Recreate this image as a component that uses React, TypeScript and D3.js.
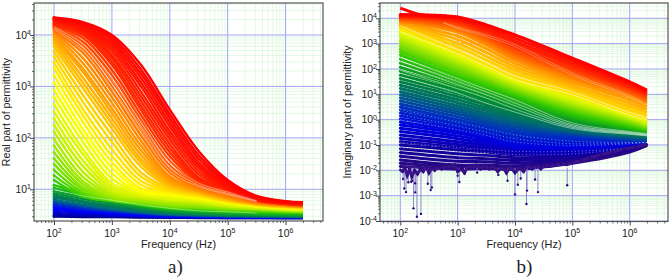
import React, { useEffect, useRef } from 'react'
import * as d3 from 'd3'

// all curve values are log10 of the reading
const leftLogF = [2, 2.5, 3, 3.5, 4, 4.5, 5, 5.5, 6, 6.3]
const leftRows = [
  [4.34,4.25,4.00,3.42,2.55,1.74,1.18,.87,.77,.75],
  [4.33,4.22,3.95,3.33,2.46,1.66,1.14,.86,.76,.74],
  [4.32,4.20,3.90,3.25,2.38,1.59,1.11,.84,.75,.74],
  [4.31,4.17,3.85,3.17,2.30,1.52,1.08,.83,.75,.73],
  [4.30,4.15,3.80,3.08,2.22,1.46,1.05,.81,.74,.73],
  [4.28,4.12,3.74,3.00,2.13,1.41,1.03,.80,.74,.72],
  [4.27,4.10,3.68,2.90,2.05,1.35,1.02,.80,.73,.72],
  [4.25,4.07,3.61,2.81,1.97,1.29,1.01,.80,.73,.71],
  [4.23,4.05,3.55,2.72,1.88,1.23,1.00,.79,.72,.71],
  [4.21,4.02,3.48,2.63,1.80,1.20,.99,.79,.72,.70],
  [4.19,4.00,3.42,2.55,1.72,1.17,.99,.79,.72,.70],
  [4.17,3.94,3.32,2.45,1.64,1.14,.97,.78,.72,.70],
  [4.15,3.87,3.22,2.35,1.55,1.11,.95,.78,.71,.69],
  [4.13,3.80,3.11,2.25,1.46,1.08,.93,.77,.71,.69],
  [4.10,3.72,3.00,2.15,1.38,1.05,.91,.76,.70,.68],
  [4.08,3.65,2.90,2.05,1.32,1.03,.88,.75,.70,.68],
  [4.05,3.55,2.79,1.95,1.25,1.01,.85,.74,.69,.67],
  [4.02,3.45,2.68,1.85,1.21,.99,.84,.73,.69,.67],
  [3.98,3.35,2.57,1.76,1.17,.97,.83,.73,.68,.66],
  [3.94,3.28,2.48,1.67,1.14,.96,.82,.72,.68,.66],
  [3.90,3.17,2.38,1.59,1.11,.95,.81,.72,.67,.66],
  [3.84,3.07,2.28,1.52,1.08,.93,.80,.71,.67,.65],
  [3.77,2.97,2.18,1.44,1.05,.92,.79,.71,.67,.65],
  [3.68,2.83,2.05,1.33,1.02,.91,.78,.70,.66,.64],
  [3.58,2.70,1.92,1.25,.99,.89,.77,.70,.66,.64],
  [3.47,2.56,1.78,1.16,.97,.88,.77,.70,.65,.64],
  [3.36,2.44,1.65,1.09,.95,.86,.76,.69,.65,.63],
  [3.22,2.31,1.53,1.02,.93,.85,.75,.69,.65,.63],
  [3.08,2.17,1.42,.97,.91,.84,.75,.69,.64,.63],
  [2.93,2.05,1.31,.94,.89,.82,.74,.68,.64,.62],
  [2.79,1.92,1.21,.92,.87,.81,.73,.67,.63,.62],
  [2.65,1.78,1.12,.92,.85,.79,.72,.66,.62,.61],
  [2.51,1.68,1.06,.89,.83,.78,.71,.66,.62,.60],
  [2.38,1.56,1.01,.87,.81,.76,.69,.65,.61,.60],
  [2.25,1.45,.96,.85,.79,.75,.68,.64,.61,.59],
  [2.12,1.34,.92,.83,.77,.73,.67,.63,.60,.59],
  [1.98,1.24,.89,.81,.75,.72,.66,.63,.60,.58],
  [1.85,1.16,.86,.79,.73,.70,.65,.62,.59,.58],
  [1.72,1.10,.84,.77,.71,.68,.64,.62,.58,.57],
  [1.60,1.04,.82,.75,.69,.67,.63,.61,.58,.57],
  [1.49,.99,.80,.74,.68,.65,.62,.60,.57,.56],
  [1.38,.94,.79,.73,.66,.64,.60,.59,.57,.56],
  [1.27,.90,.78,.72,.65,.63,.59,.58,.56,.55],
  [1.18,.86,.77,.70,.64,.62,.58,.57,.56,.55],
  [1.08,.92,.80,.70,.63,.60,.57,.55,.54,.53],
  [1.02,.89,.78,.68,.61,.58,.55,.53,.52,.51],
  [.96,.85,.75,.66,.59,.56,.53,.51,.50,.50],
  [.92,.81,.72,.63,.57,.53,.51,.50,.49,.48],
  [.88,.77,.68,.60,.55,.52,.50,.49,.48,.48],
  [.84,.74,.65,.58,.53,.51,.49,.48,.48,.47],
  [.80,.70,.62,.56,.52,.50,.48,.48,.47,.47],
  [.76,.67,.60,.55,.51,.49,.48,.47,.47,.46],
  [.72,.64,.58,.53,.50,.48,.47,.47,.46,.46],
  [.68,.61,.56,.52,.49,.48,.47,.46,.46,.46],
  [.64,.58,.54,.50,.48,.47,.46,.46,.45,.45],
  [.60,.56,.52,.49,.47,.46,.46,.45,.45,.45],
  [.56,.53,.50,.48,.46,.46,.45,.45,.45,.45],
  [.52,.50,.48,.47,.46,.45,.45,.45,.44,.44],
  [.49,.48,.47,.46,.45,.45,.44,.44,.44,.44],
  [.47,.46,.46,.45,.45,.44,.44,.44,.44,.44],
]
const leftColorIdx = [0, 10, 16, 22, 28, 33, 40, 44, 46, 48, 50, 52, 54, 57, 59]
const leftColors = ['#ff0000','#ff2a00','#ff8a00','#ffc400','#ffff00','#d8f400','#78e000','#22c800','#0ba030','#007f50','#006a80','#0030c0','#0000ff','#0000b8','#00008b']

// pale hairlines where the family of curves leaves a gap
const leftHairF = [2, 2.5, 3, 3.5, 4, 4.5, 5, 5.5]
const leftHairRows = [
  [1.0,.87,.79,.70,.63,.58,.56,.54],
  [4.16,3.82,3.12,2.32,1.53,1.12,.95,.78],
  [4.14,3.76,3.05,2.24,1.44,1.08,.92,.77],
  [4.11,3.70,2.97,2.14,1.36,1.05,.90,.76],
]

const rightLogF = [2, 3, 3.5, 4, 5, 6, 6.3]
const rightRows = [
  [4.15,4.05,3.74,3.34,2.43,1.49,1.17],
  [4.12,4.00,3.66,3.22,2.33,1.43,1.12],
  [4.10,3.95,3.58,3.10,2.23,1.37,1.07],
  [4.07,3.90,3.50,2.99,2.14,1.31,1.02],
  [4.05,3.85,3.42,2.87,2.04,1.25,.97],
  [4.01,3.77,3.33,2.77,1.95,1.18,.90],
  [3.97,3.69,3.23,2.66,1.85,1.11,.83],
  [3.93,3.61,3.14,2.56,1.76,1.04,.76],
  [3.89,3.53,3.04,2.45,1.66,.97,.69],
  [3.85,3.45,2.95,2.35,1.57,.90,.62],
  [3.81,3.30,2.80,2.22,1.47,.78,.51],
  [3.77,3.16,2.65,2.09,1.36,.65,.40],
  [3.73,3.01,2.50,1.96,1.26,.53,.29],
  [3.69,2.87,2.35,1.83,1.15,.40,.18],
  [3.65,2.72,2.20,1.70,1.05,.28,.07],
  [3.55,2.63,2.12,1.63,.96,.23,.01],
  [3.45,2.54,2.04,1.56,.88,.18,-.05],
  [3.35,2.44,1.96,1.48,.79,.12,-.11],
  [3.25,2.35,1.88,1.41,.70,.07,-.17],
  [3.13,2.25,1.79,1.34,.63,.02,-.21],
  [3.02,2.14,1.70,1.26,.55,-.04,-.25],
  [2.90,2.04,1.62,1.19,.48,-.09,-.29],
  [2.78,1.93,1.53,1.12,.40,-.14,-.33],
  [2.67,1.83,1.44,1.04,.33,-.20,-.37],
  [2.55,1.72,1.35,.97,.25,-.25,-.41],
  [2.39,1.61,1.24,.87,.17,-.30,-.44],
  [2.23,1.49,1.13,.76,.10,-.35,-.47],
  [2.07,1.38,1.02,.66,.02,-.39,-.50],
  [1.91,1.26,.91,.55,-.05,-.44,-.53],
  [1.75,1.15,.80,.45,-.13,-.49,-.56],
  [1.62,1.03,.69,.36,-.19,-.52,-.58],
  [1.49,.91,.58,.27,-.24,-.55,-.61],
  [1.36,.79,.47,.18,-.30,-.58,-.63],
  [1.23,.67,.36,.09,-.35,-.61,-.66],
  [1.10,.55,.25,.00,-.41,-.64,-.68],
  [.98,.44,.15,-.10,-.46,-.67,-.71],
  [.86,.33,.05,-.20,-.50,-.70,-.74],
  [.74,.22,-.05,-.29,-.55,-.74,-.78],
  [.62,.11,-.15,-.39,-.59,-.77,-.81],
  [.50,.00,-.25,-.49,-.64,-.80,-.84],
  [.38,-.09,-.34,-.58,-.71,-.83,-.85],
  [.26,-.18,-.42,-.66,-.79,-.85,-.87],
  [.15,-.26,-.51,-.75,-.86,-.88,-.88],
  [.03,-.35,-.59,-.83,-.93,-.91,-.89],
  [-.09,-.44,-.68,-.92,-1.01,-.93,-.91],
  [-.21,-.53,-.76,-1.00,-1.08,-.96,-.92],
  [-.34,-.64,-.85,-1.07,-1.13,-.99,-.93],
  [-.47,-.75,-.93,-1.13,-1.18,-1.01,-.93],
  [-.61,-.87,-1.02,-1.20,-1.24,-1.04,-.94],
  [-.74,-.98,-1.11,-1.26,-1.29,-1.07,-.95],
  [-.87,-1.09,-1.19,-1.33,-1.34,-1.09,-.95],
  [-1.00,-1.20,-1.28,-1.39,-1.39,-1.12,-.96],
  [-1.15,-1.35,-1.41,-1.50,-1.44,-1.14,-.97],
  [-1.30,-1.50,-1.54,-1.61,-1.49,-1.16,-.98],
  [-1.44,-1.64,-1.66,-1.72,-1.54,-1.18,-.99],
  [-1.59,-1.79,-1.79,-1.83,-1.59,-1.20,-1.00],
  [-1.72,-1.86,-1.85,-1.90,-1.66,-1.24,-1.01],
  [-1.85,-1.95,-1.93,-1.96,-1.72,-1.28,-1.02],
]
const rightColorIdx = [0, 4, 9, 14, 16, 18, 24, 29, 34, 39, 45, 51, 57]
const rightColors = ['#ff0000','#ff3000','#ff9000','#ffe000','#e8f800','#c0f000','#30c800','#008c30','#006a70','#0030c0','#0000e0','#1000a0','#2c0a80']

const rightOrangeHairF = [2.75, 3, 3.5, 4, 5, 6, 6.3]
const rightOrangeHair = [
  [3.85,3.65,3.35,2.97,1.84,.95,.62],
  [3.82,3.60,3.28,2.88,1.76,.88,.55],
]
const rightHairRows = [
  [3.71,2.75,2.25,1.72,1.10,.28,.09],
  [3.47,2.60,2.10,1.58,.98,.18,.00],
  [2.45,1.62,1.20,.78,-.13,-.47,-.55],
  [2.30,1.50,1.10,.66,-.20,-.50,-.58],
  [2.15,1.38,.98,.55,-.25,-.53,-.60],
  [1.95,1.22,.85,.42,-.30,-.55,-.62],
  [1.70,1.05,.65,.30,-.35,-.58,-.64],
]
const rightDottedRows = [
  [.40,-.10,-.35,-.60,-.85,-.90,-.90],
  [.20,-.25,-.50,-.75,-.95,-.92,-.90],
  [.00,-.40,-.62,-.88,-1.02,-.95,-.90],
  [-.90,-1.10,-1.18,-1.25,-1.25,-1.10,-.95],
  [-1.10,-1.25,-1.30,-1.38,-1.35,-1.12,-.96],
]

// low frequency red tail on the imaginary part
const tailLogF = [2, 2.1, 2.2, 2.3, 2.45, 2.6, 2.8, 3]
const tailLogV = [4.40, 4.32, 4.24, 4.17, 4.11, 4.07, 4.05, 4.05]

// jagged noise floor of panel b
const noiseLogF = [2,2.04,2.08,2.12,2.16,2.2,2.25,2.3,2.35,2.4,2.45,2.5,2.55,2.6,2.66,2.72,2.8,2.88,2.95,3,3.06,3.12,3.18,3.25,3.32,3.4,3.47,3.55,3.62,3.7,3.78,3.85,3.92,4,4.08,4.15,4.22,4.3,4.38,4.45,4.52,4.6,4.7,4.8,4.9,5,5.15,5.3,5.5,5.7,5.9,6.1,6.3]
const noiseLogV = [-1.98,-2.05,-1.9,-2.2,-1.95,-2.25,-2,-2.15,-1.95,-2.05,-1.85,-2.1,-1.9,-2,-1.85,-1.95,-1.8,-1.9,-1.78,-2.05,-1.95,-2.1,-1.82,-1.92,-1.8,-1.95,-1.8,-1.95,-1.82,-2.05,-1.85,-2.1,-1.85,-2.1,-1.9,-2.05,-1.8,-1.95,-1.8,-1.95,-1.8,-1.85,-1.8,-1.75,-1.78,-1.7,-1.62,-1.5,-1.38,-1.28,-1.16,-1.08,-.98]

// isolated deep points hanging from the noise floor
const spikeLogF = [2.05,2.07,2.1,2.14,2.19,2.22,2.23,2.26,2.26,2.29,2.36,2.48,2.53,2.55,3,3.03,3.12,3.34,3.71,3.87,4,4.05,4.1,4.2,4.21,4.35,4.4,4.91]
const spikeLogV = [-2.34,-2.72,-2.86,-2.47,-2.45,-2.41,-3.5,-2.87,-2.51,-3.83,-3.72,-2.53,-2.78,-2.68,-2.21,-2.46,-2.14,-2.09,-2.18,-2.41,-2.95,-2.57,-2.32,-3.33,-2.8,-2.36,-2.86,-2.59]

const xExps = [2, 3, 4, 5, 6]
const leftYExps = [1, 2, 3, 4]
const rightYExps = [-4, -3, -2, -1, 0, 1, 2, 3, 4]

const minorsBetween = (lo, hi) => {
  const out = []
  for (let e = Math.floor(Math.log10(lo)); e < Math.ceil(Math.log10(hi)); e++) {
    for (let m = 2; m < 10; m++) {
      const v = m * 10 ** e
      if (v >= lo && v <= hi) out.push(v)
    }
  }
  return out
}

function Axes({ x, y, frame }) {
  const ref = useRef(null)
  useEffect(() => {
    const g = d3.select(ref.current)
    g.selectAll('*').remove()
    const xMin = x.invert(frame.x0)
    const xMax = x.invert(frame.x1)
    const yMin = y.invert(frame.y1)
    const yMax = y.invert(frame.y0)
    const xMinor = minorsBetween(xMin, xMax)
    const yMinor = minorsBetween(yMin, yMax)
    const xMajor = xExps.map(e => 10 ** e)
    const yMajor = d3.range(Math.ceil(Math.log10(yMin)), Math.floor(Math.log10(yMax)) + 1).map(e => 10 ** e)

    const add = (axis, tx, ty, size) => {
      const a = g.append('g').attr('transform', `translate(${tx},${ty})`).call(axis)
      a.select('.domain').remove()
      a.selectAll('line').attr('stroke', '#333').attr('stroke-width', size)
    }
    add(d3.axisBottom(x).tickValues(xMinor).tickSize(2).tickFormat(() => ''), 0, frame.y1, 0.7)
    add(d3.axisBottom(x).tickValues(xMajor).tickSize(4).tickFormat(() => ''), 0, frame.y1, 0.9)
    add(d3.axisLeft(y).tickValues(yMinor).tickSize(2).tickFormat(() => ''), frame.x0, 0, 0.7)
    add(d3.axisLeft(y).tickValues(yMajor).tickSize(4).tickFormat(() => ''), frame.x0, 0, 0.9)
  }, [x, y, frame])
  return <g ref={ref} />
}

function Panel({ x, y, frame, logF, rows, colorIdx, colors, strokeW, yExps, yTitle, yTitleX, caption, captionX, children }) {
  const color = d3.scaleLinear().domain(colorIdx).range(colors).interpolate(d3.interpolateRgb)
  const line = d3.line().x((d, i) => x(10 ** logF[i])).y(d => y(10 ** d)).curve(d3.curveCatmullRom.alpha(0.5))
  const xMinor = minorsBetween(x.invert(frame.x0), x.invert(frame.x1))
  const yMinor = minorsBetween(y.invert(frame.y1), y.invert(frame.y0))
  const cx = (frame.x0 + frame.x1) / 2
  const font = '"Liberation Sans", Arial, sans-serif'
  return (
    <g fontFamily={font} fill="#222">
      <rect x={frame.x0} y={frame.y0} width={frame.x1 - frame.x0} height={frame.y1 - frame.y0} fill="#fff" />
      {xMinor.map(v => <line key={v} x1={x(v)} x2={x(v)} y1={frame.y0} y2={frame.y1} stroke="#d6f6d6" strokeWidth={0.7} />)}
      {yMinor.map(v => <line key={v} x1={frame.x0} x2={frame.x1} y1={y(v)} y2={y(v)} stroke="#d6f6d6" strokeWidth={0.7} />)}
      {xExps.map(e => <line key={e} x1={x(10 ** e)} x2={x(10 ** e)} y1={frame.y0} y2={frame.y1} stroke="#a2a2f2" strokeWidth={1} />)}
      {yExps.map(e => <line key={e} x1={frame.x0} x2={frame.x1} y1={y(10 ** e)} y2={y(10 ** e)} stroke="#a2a2f2" strokeWidth={1} />)}
      {rows.map((r, i) => i).reverse().map(i => (
        <g key={i}>
          <path d={line(rows[i])} fill="none" stroke={color(i)} strokeWidth={strokeW} />
          <circle cx={x(10 ** logF[0])} cy={y(10 ** rows[i][0])} r={1.4} fill={color(i)} />
        </g>
      ))}
      {children}
      <rect x={frame.x0} y={frame.y0} width={frame.x1 - frame.x0} height={frame.y1 - frame.y0} fill="none" stroke="#555" strokeWidth={1.2} />
      <Axes x={x} y={y} frame={frame} />
      {xExps.map(e => (
        <text key={e} x={x(10 ** e)} y={frame.y1 + 15.5} textAnchor="middle" fontSize={10.4}>10<tspan fontSize={7} dy={-3.8}>{e}</tspan></text>
      ))}
      {yExps.map(e => (
        <text key={e} x={frame.x0 - 3} y={y(10 ** e) + 3.8} textAnchor="end" fontSize={10.4}>10<tspan fontSize={7} dy={-3.8}>{e}</tspan></text>
      ))}
      <text x={cx} y={248} textAnchor="middle" fontSize={10.9}>Frequency (Hz)</text>
      <text transform={`translate(${yTitleX},112) rotate(-90)`} textAnchor="middle" fontSize={10.6}>{yTitle}</text>
      <text x={captionX} y={273} textAnchor="middle" fontSize={19} fontFamily='"Liberation Serif", serif'>{caption}</text>
    </g>
  )
}

export default function App() {
  const xLeft = d3.scaleLog().domain([1e2, 1e6]).range([54, 285.6])
  const yLeft = d3.scaleLog().domain([1e1, 1e4]).range([189.3, 35])
  const xRight = d3.scaleLog().domain([1e2, 1e6]).range([400.3, 629.7])
  const yRight = d3.scaleLog().domain([1e-4, 1e4]).range([221, 18.3])
  const frameLeft = { x0: 34, x1: 323, y0: 3, y1: 221 }
  const frameRight = { x0: 380, x1: 668, y0: 3, y1: 221.5 }

  const curve = d3.curveCatmullRom.alpha(0.5)
  const tailLine = d3.line().x(d => xRight(10 ** d[0])).y(d => yRight(10 ** d[1])).curve(d3.curveMonotoneX)
  const noiseLine = d3.line().x(d => xRight(10 ** d[0])).y(d => yRight(10 ** d[1]))
  const hairRight = d3.line().x((d, i) => xRight(10 ** rightLogF[i])).y(d => yRight(10 ** d)).curve(curve)
  const hairOrange = d3.line().x((d, i) => xRight(10 ** rightOrangeHairF[i])).y(d => yRight(10 ** d)).curve(curve)
  const hairLeft = d3.line().x((d, i) => xLeft(10 ** leftHairF[i])).y(d => yLeft(10 ** d)).curve(curve)
  const noisePts = d3.zip(noiseLogF, noiseLogV)
  const spikePts = d3.zip(spikeLogF, spikeLogV)

  return (
    <svg width={669} height={280} style={{ position: 'absolute', left: 0, top: 0, display: 'block' }}>
      <rect width={669} height={280} fill="#fff" />
      <Panel x={xLeft} y={yLeft} frame={frameLeft} logF={leftLogF} rows={leftRows} colorIdx={leftColorIdx} colors={leftColors}
        strokeW={2.4} yExps={leftYExps} yTitle="Real part of permittivity" yTitleX={9.5} caption="a)" captionX={175.5}>
        {leftHairRows.map((r, i) => <path key={i} d={hairLeft(r)} fill="none" stroke="#fff" strokeOpacity={0.55} strokeWidth={0.7} />)}
      </Panel>
      <Panel x={xRight} y={yRight} frame={frameRight} logF={rightLogF} rows={rightRows} colorIdx={rightColorIdx} colors={rightColors}
        strokeW={3} yExps={rightYExps} yTitle="Imaginary part of permittivity" yTitleX={351} caption="b)" captionX={524.5}>
        <path d={tailLine(d3.zip(tailLogF, tailLogV))} fill="none" stroke="#ff0000" strokeWidth={3} />
        {rightOrangeHair.map((r, i) => <path key={i} d={hairOrange(r)} fill="none" stroke="#fff" strokeOpacity={0.45} strokeWidth={0.6} />)}
        {rightHairRows.map((r, i) => <path key={i} d={hairRight(r)} fill="none" stroke="#fff" strokeOpacity={0.7} strokeWidth={0.7} />)}
        {rightDottedRows.map((r, i) => <path key={i} d={hairRight(r)} fill="none" stroke="#fff" strokeOpacity={0.6} strokeWidth={0.8} strokeDasharray="1 2.5" />)}
        {spikePts.map((d, i) => (
          <g key={i}>
            <line x1={xRight(10 ** d[0])} x2={xRight(10 ** d[0])} y1={yRight(10 ** -1.9)} y2={yRight(10 ** d[1])} stroke="#8f86c8" strokeWidth={1} />
            <circle cx={xRight(10 ** d[0])} cy={yRight(10 ** d[1])} r={1.2} fill="#2c0a80" />
          </g>
        ))}
        <path d={noiseLine(noisePts)} fill="none" stroke="#3a1488" strokeWidth={3} />
        {noisePts.map((d, i) => <circle key={i} cx={xRight(10 ** d[0])} cy={yRight(10 ** d[1])} r={1.2} fill="#2c0a80" />)}
      </Panel>
    </svg>
  )
}
